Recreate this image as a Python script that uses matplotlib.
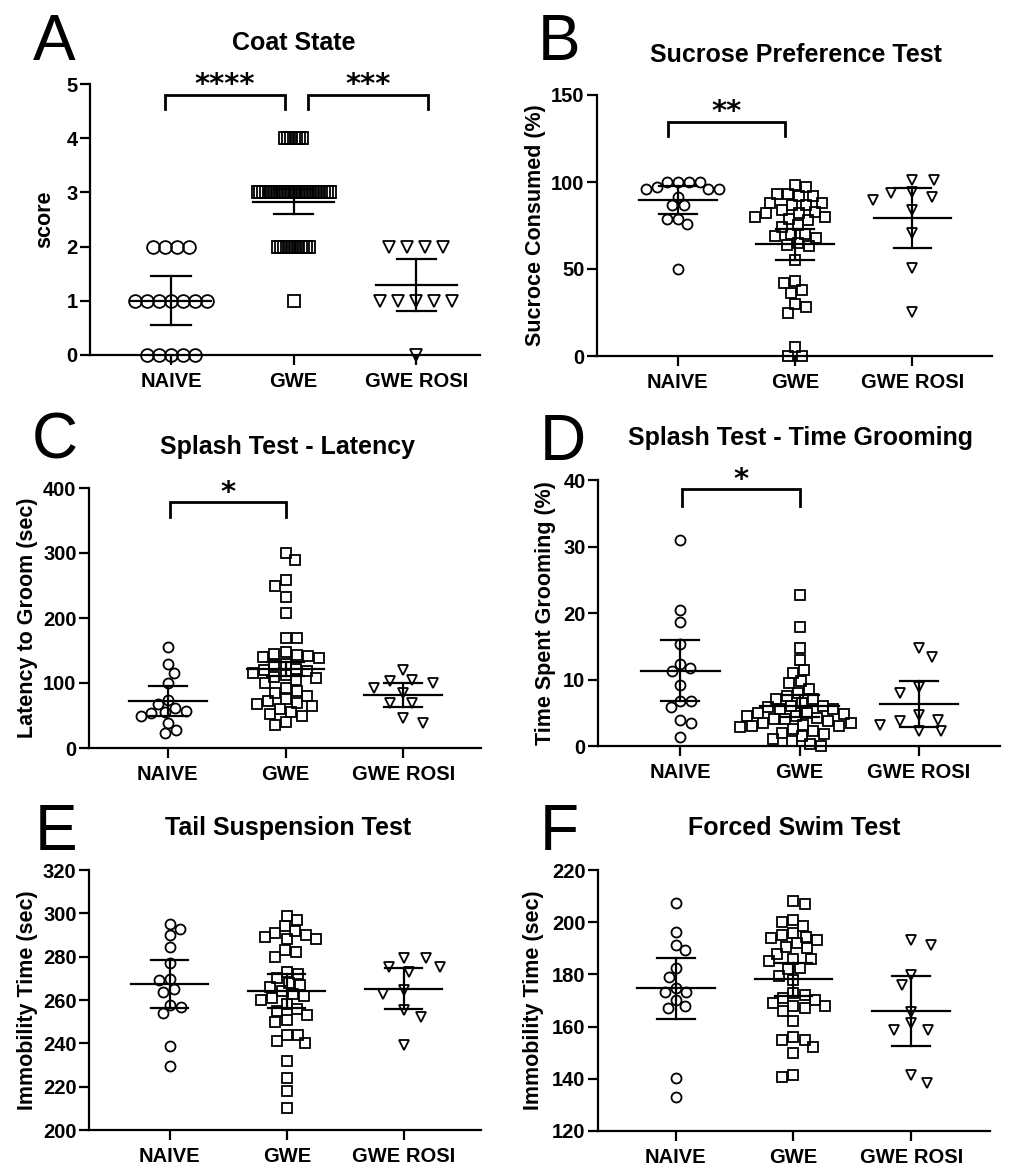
import numpy as np
import matplotlib
matplotlib.use("Agg")
import matplotlib.pyplot as plt

plt.rcParams['font.family'] = ['Liberation Sans', 'DejaVu Sans']
plt.rcParams['font.weight'] = 'bold'

GROUPS = ["NAIVE", "GWE", "GWE ROSI"]
MARKERS = ["o", "s", "v"]

# ---- A: coat state (scores) ----
a_naive = [2, 2, 2, 2, 1, 1, 1, 1, 1, 1, 1, 0, 0, 0, 0, 0]
a_gwe = [4, 4, 4, 4, 4, 4, 4,
         3, 3, 3, 3, 3, 3, 3, 3, 3, 3, 3, 3, 3, 3, 3, 3, 3, 3, 3, 3, 3, 3, 3, 3, 3, 3, 3,
         2, 2, 2, 2, 2, 2, 2, 2, 2, 2, 2, 2, 1]
a_rosi = [2, 2, 2, 2, 1, 1, 1, 1, 1, 0]
a_mean = [1.0, 2.83, 1.3]
a_lo = [0.55, 2.6, 0.82]
a_hi = [1.45, 3.06, 1.78]

# ---- B: sucrose preference ----
b_naive = [100, 100, 100, 100, 96, 96, 97, 96, 91.5, 86.5, 86.5, 79, 79, 76, 50]
b_gwe = [97, 98, 93, 93, 92, 92, 88, 88, 87, 87, 84, 83, 82, 82, 80, 80, 79, 78,
         75, 74, 70, 70, 69, 68, 65, 64, 63, 55, 43, 42, 38, 36, 30, 28, 25, 5, 0, 0]
b_rosi = [91.6, 101, 101, 89.7, 93.5, 94.4, 84, 70.5, 50.4, 25.5]
b_mean = [89.7, 64.2, 79.1]
b_lo = [81.8, 55.2, 61.9]
b_hi = [97.6, 73.2, 96.7]

# ---- C: splash latency ----
c_naive = [156, 129, 116, 100, 74, 67, 62, 57, 54, 55, 49, 39, 28, 23]
c_gwe = [300, 290, 258, 250, 232, 208, 170, 170, 148, 145, 143, 142, 140, 138,
         130, 128, 122, 120, 118, 115, 112, 110, 108, 105, 100, 92, 88, 85, 80,
         75, 72, 70, 68, 65, 60, 55, 52, 50, 40, 35]
c_rosi = [100, 103.6, 120.5, 105, 84.6, 92, 69, 69, 38.5, 46]
c_mean = [71.8, 122, 81]
c_lo = [49.7, 111, 63]
c_hi = [94.9, 133, 100]

# ---- D: splash time grooming ----
d_naive = [31, 20.4, 18.7, 15.3, 12.3, 11.3, 11.7, 9.1, 6.7, 5.9, 6.7, 3.9, 3.5, 1.4]
d_gwe = [22.7, 17.9, 14.7, 13, 11.5, 11, 9.8, 9.5,
         8.5, 8, 7.5, 7, 7, 6.5, 6, 6, 5.8, 5.5, 5.5, 5, 5, 4.8, 4.5, 4.5, 4.2,
         4, 4, 3.8, 3.5, 3.5, 3.2, 3, 3, 2.8, 2.5, 2.2, 2, 1.8, 1.5, 1, 0.8, 0.3, 0]
d_rosi = [14.7, 13.4, 8.8, 7.9, 4.7, 3.9, 3.8, 3.2, 2.2, 2.2]
d_mean = [11.3, 6.0, 6.3]
d_lo = [6.7, 4.3, 2.9]
d_hi = [15.9, 7.7, 9.7]

# ---- E: tail suspension ----
e_naive = [295, 293, 290, 284.3, 277, 269.5, 269.2, 263.8, 265, 257, 257.7, 253.8, 238.8, 229.5]
e_gwe = [299, 297, 294, 292, 291, 290, 289, 288, 288, 283, 282, 280, 273, 272,
         270, 268, 267, 266, 264, 263, 262, 261, 260, 258, 256, 255, 253, 251,
         250, 244, 244, 241, 240, 232, 224, 218, 210]
e_rosi = [275.4, 279.2, 275.4, 279.2, 273, 264.6, 263, 255.4, 252.3, 239.2]
e_mean = [267.4, 264.2, 265]
e_lo = [256.2, 256.5, 255.8]
e_hi = [278.5, 272, 275]

# ---- F: forced swim ----
f_naive = [207.2, 196.3, 191.2, 189.3, 182.3, 179.1, 174.6, 170.1, 173.3, 173.3, 167.3, 168, 140.3, 133]
f_gwe = [208, 207, 201, 200, 198.5, 196, 195, 194.5, 194, 193, 192, 190.5, 190,
         188, 186, 186, 185, 182.5, 182, 179.5, 178, 173, 172, 171, 170, 169,
         168, 168, 167, 166, 162, 156, 155, 155, 152, 150, 141.5, 140.5]
f_rosi = [191.2, 193.1, 179.7, 175.9, 165.7, 161.2, 158.6, 158.6, 141.4, 138.4]
f_mean = [174.6, 178.1, 165.9]
f_lo = [163.1, 171.7, 152.5]
f_hi = [186.1, 184.5, 179.3]

# significance brackets: (x start, x end, top, leg bottom, label)
a_sig = [(-0.05, 0.93, 4.8, 4.53, "****"), (1.12, 2.1, 4.8, 4.53, "***")]
b_sig = [(-0.08, 0.91, 134.7, 126.4, "**")]
c_sig = [(0.02, 1.0, 378, 355, "*")]
d_sig = [(0.01, 1.0, 38.6, 36.1, "*")]

W, H = 1011, 1166
fig = plt.figure(figsize=(W / 100, H / 100), dpi=100)

# collision ellipse (px) per marker: horizontal, vertical
SPREAD = {"o": (11.0, 10.5), "s": (11.5, 11.0), "v": (22.0, 11.0)}


def swarm_offsets(vals, dx0, dy0, ypx):
    vals = np.asarray(vals, float)
    order = np.argsort(-vals, kind="stable")
    placed = []
    offs = np.zeros(len(vals))
    side = 1
    for i in order:
        y = vals[i] * ypx
        iv = []
        for xo, yo in placed:
            dy = abs(y - yo)
            if dy < dy0:
                w = dx0 * np.sqrt(1 - (dy / dy0) ** 2)
                iv.append((xo - w, xo + w))
        cands = [0.0] + [a for a, b in iv] + [b for a, b in iv]
        ok = [c for c in cands if all(not (a + 1e-6 < c < b - 1e-6) for a, b in iv)]
        m = min(abs(c) for c in ok)
        best = [c for c in ok if abs(abs(c) - m) < 1e-6]
        if m < 1e-6:
            c = 0.0
        elif any(c > 0 for c in best) and any(c < 0 for c in best):
            c = m * side
            side = -side
        else:
            c = best[0]
            side = -1 if c > 0 else 1
        offs[i] = c
        placed.append((c, y))
    return offs


def row_offsets(vals, width):
    vals = np.asarray(vals, float)
    uniq, counts = np.unique(vals, return_counts=True)
    s = width / max(counts.max() - 1, 1)
    offs = np.zeros(len(vals))
    for u in uniq:
        idx = np.where(vals == u)[0]
        n = len(idx)
        offs[idx] = (np.arange(n) - (n - 1) / 2) * s
    return offs


def panel(box, xlim, ylim, yticks, data, mean, lo, hi, ylabel, ylab_x,
          sig=None, rows=False, msize=7.2):
    l, r, t, b = box
    ax = fig.add_axes([l / W, 1 - b / H, (r - l) / W, (b - t) / H])
    xpx = (r - l) / (xlim[1] - xlim[0])
    ypx = (b - t) / (ylim[1] - ylim[0])
    for i, vals in enumerate(data):
        if rows:
            offs = row_offsets(vals, 72)
        else:
            dx0, dy0 = SPREAD[MARKERS[i]]
            offs = swarm_offsets(vals, dx0, dy0, ypx)
        ax.plot(i + offs / xpx, vals, linestyle="none", marker=MARKERS[i],
                ms=msize, mfc="none", mec="black", mew=1.3, clip_on=False, zorder=3)
        ax.plot([i - 0.33, i + 0.33], [mean[i], mean[i]], color="black", lw=1.6, zorder=4)
        ax.plot([i, i], [lo[i], hi[i]], color="black", lw=1.6, zorder=4)
        for v in (lo[i], hi[i]):
            ax.plot([i - 0.16, i + 0.16], [v, v], color="black", lw=1.6, zorder=4)
    if sig:
        for x0, x1, top, bot, lab in sig:
            ax.plot([x0, x0, x1, x1], [bot, top, top, bot], color="black", lw=2,
                    clip_on=False, solid_joinstyle="miter")
            ax.annotate(lab, xy=((x0 + x1) / 2, top), xytext=(0, 1), textcoords="offset points",
                        ha="center", va="baseline", fontsize=21, fontweight="bold",
                        family="DejaVu Sans", annotation_clip=False)
    ax.set_xlim(xlim)
    ax.set_ylim(ylim)
    ax.set_yticks(yticks)
    ax.set_xticks(range(3))
    ax.set_xticklabels(GROUPS)
    for s in ("top", "right"):
        ax.spines[s].set_visible(False)
    for s in ("left", "bottom"):
        ax.spines[s].set_linewidth(1.6)
    ax.tick_params(axis="both", width=1.6, length=7, labelsize=14.5)
    ax.tick_params(axis="y", pad=2)
    ax.tick_params(axis="x", pad=5)
    ax.set_ylabel(ylabel, fontsize=15.5, fontweight="bold")
    ax.yaxis.set_label_coords((ylab_x - l) / (r - l), 0.5)
    ax.yaxis.label.set_verticalalignment("center")
    return ax


def label(x, y, letter, title, tx, ty):
    fig.text(x / W, 1 - y / H, letter, fontsize=46, fontweight="normal", va="baseline", ha="left")
    fig.text(tx / W, 1 - ty / H, title, fontsize=18, fontweight="bold", va="baseline", ha="center")


panel((90, 480, 84, 355), (-0.66, 2.52), (0, 5), range(0, 6), [a_naive, a_gwe, a_rosi],
      a_mean, a_lo, a_hi, "score", 45, sig=a_sig, rows=True, msize=9.2)
label(33, 60, "A", "Coat State", 294, 50)

panel((597, 992, 95, 356), (-0.69, 2.68), (0, 150), [0, 50, 100, 150], [b_naive, b_gwe, b_rosi],
      b_mean, b_lo, b_hi, "Sucroce Consumed (%)", 535, sig=b_sig)
label(538, 60, "B", "Sucrose Preference Test", 796, 62)

panel((89, 481, 488, 748), (-0.67, 2.66), (0, 400), [0, 100, 200, 300, 400], [c_naive, c_gwe, c_rosi],
      c_mean, c_lo, c_hi, "Latency to Groom (sec)", 27, sig=c_sig)
label(32, 458, "C", "Splash Test - Latency", 287, 454)

panel((598, 1000, 480, 746), (-0.69, 2.68), (0, 40), [0, 10, 20, 30, 40], [d_naive, d_gwe, d_rosi],
      d_mean, d_lo, d_hi, "Time Spent Grooming (%)", 545, sig=d_sig)
label(540, 460, "D", "Splash Test - Time Grooming", 800, 445)

panel((89, 481, 870, 1130), (-0.69, 2.66), (200, 320), range(200, 321, 20), [e_naive, e_gwe, e_rosi],
      e_mean, e_lo, e_hi, "Immobility Time (sec)", 27)
label(35, 850, "E", "Tail Suspension Test", 288, 835)

panel((598, 990, 870, 1131), (-0.66, 2.67), (120, 220), range(120, 221, 20), [f_naive, f_gwe, f_rosi],
      f_mean, f_lo, f_hi, "Immobility Time (sec)", 533)
label(540, 850, "F", "Forced Swim Test", 794, 835)

fig.savefig("out.png", dpi=100, facecolor="white")
